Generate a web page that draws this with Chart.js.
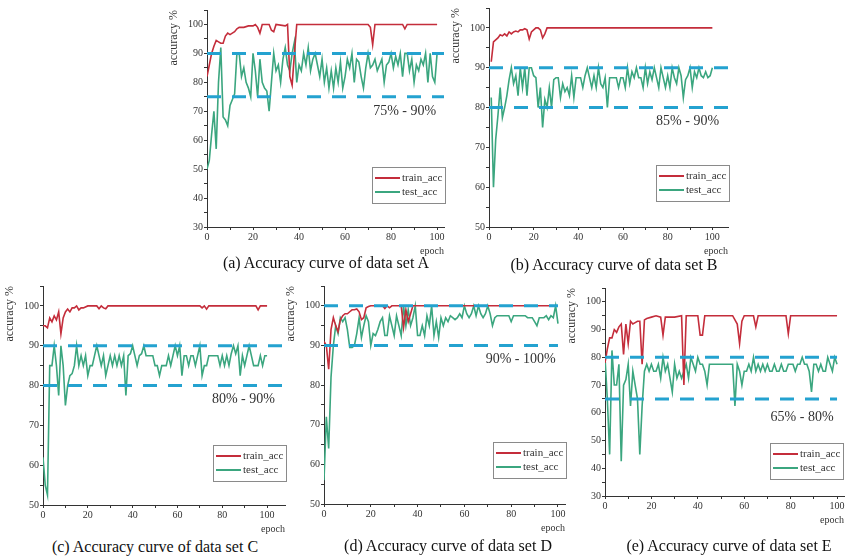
<!DOCTYPE html>
<html>
<head>
<meta charset="utf-8">
<script src="https://cdn.jsdelivr.net/npm/chart.js@4/dist/chart.umd.min.js"></script>
<style>
  body { margin: 0; width: 848px; height: 560px; background: #fff; position: relative; overflow: hidden; font-family: "Liberation Serif", serif; }
  canvas { position: absolute; }
  .cap { position: absolute; font-size: 16px; color: #111; white-space: nowrap; transform: translateX(-50%); line-height: 18px; }
</style>
</head>
<body>
<canvas id="chartA"></canvas>
<canvas id="chartB"></canvas>
<canvas id="chartC"></canvas>
<canvas id="chartD"></canvas>
<canvas id="chartE"></canvas>
<div class="cap" style="left:326px;top:254px">(a) Accuracy curve of data set A</div>
<div class="cap" style="left:614px;top:256px">(b) Accuracy curve of data set B</div>
<div class="cap" style="left:155px;top:538px">(c) Accuracy curve of data set C</div>
<div class="cap" style="left:448px;top:537px">(d) Accuracy curve of data set D</div>
<div class="cap" style="left:729px;top:537px">(e) Accuracy curve of data set E</div>
<script>
// ---- data ----
// test_acc: one value per epoch, starting at testStart
const testStartA = 0;
const testA = [50, 53, 62, 70, 57, 80, 92, 68, 67, 65,
  72, 74, 76, 90, 90, 82, 85, 80, 78, 75,
  90, 84, 75, 88, 80, 78, 77, 70, 80, 90,
  84, 86, 80, 88, 92, 86, 84, 90, 94, 80,
  86, 84, 90, 86, 92, 84, 88, 90, 86, 82,
  88, 80, 85, 78, 84, 78, 85, 80, 87, 78,
  82, 88, 85, 90, 80, 88, 87, 82, 78, 85,
  90, 85, 86, 88, 84, 86, 88, 80, 86, 87,
  90, 85, 89, 86, 90, 82, 90, 90, 84, 88,
  80, 86, 84, 88, 86, 90, 80, 90, 82, 80, 90];
const trainEpA = [0, 1, 2, 3, 4, 5, 6, 7, 8, 9, 10, 11, 12, 13, 14, 16, 18, 20, 21, 22, 23, 24, 27, 28, 29, 30, 34, 35, 36, 37, 38, 39, 70, 71, 72, 73, 85, 86, 87, 100];
const trainA = [82, 86, 90, 92.5, 94.5, 94, 93.5, 93.5, 96, 97, 96.5, 97, 97.5, 98.5, 99, 99, 99.5, 99.5, 100, 99, 97, 100, 100, 98, 97.5, 100, 99.5, 100, 82, 79, 90, 100, 100, 99, 93, 100, 100, 98.5, 100, 100];

const testStartB = 1;
const testB = [82.5, 60, 72, 78, 85, 77.5, 80, 83, 87, 90,
  86, 88, 83, 90, 85, 90, 83, 90, 90, 88,
  87.5, 80, 85, 75, 82, 80, 85, 80, 87, 87.5,
  87.5, 82.5, 86, 84, 85, 83, 88, 82.5, 87.5, 87.5,
  87.5, 85, 88, 90, 87.5, 85, 88, 85, 90, 86,
  85, 87.5, 80, 87.5, 87.5, 87.5, 87.5, 85, 87.5, 87.5,
  85, 90, 86, 89, 87.5, 90, 87.5, 87.5, 85, 90,
  86, 89, 87, 90, 87.5, 85, 90, 87.5, 85, 88,
  85, 90, 87.5, 86, 90, 88, 82.5, 87, 88, 90,
  85, 89, 87.5, 90, 88, 87.5, 89, 87.5, 88, 90];
const trainEpB = [1, 2, 3, 4, 5, 6, 7, 8, 9, 10, 11, 12, 13, 14, 15, 16, 17, 18, 19, 20, 21, 22, 23, 24, 25, 26, 100];
const trainB = [91.5, 96.5, 97, 97.5, 98.3, 98, 98.5, 98, 99, 98.5, 99, 99.2, 99, 99.5, 99.5, 99.8, 99.5, 97.2, 99, 99.5, 100, 100, 99.5, 97.5, 98.5, 100, 100];

const testStartC = 0;
const testC = [62, 55, 52.5, 85, 85, 90, 85, 77.5, 90, 85,
  75, 80, 82.5, 83, 85, 90, 85, 87.5, 85, 87.5,
  82.5, 85, 85, 87.5, 90, 87.5, 85, 87.5, 82.5, 85,
  87.5, 85, 87.5, 85, 87.5, 85, 87.5, 77.5, 87.5, 88,
  90, 87.5, 85, 87.5, 88, 90, 87.5, 87.5, 87.5, 87.5,
  85, 85, 82.5, 85, 85, 85, 87.5, 85, 87.5, 90,
  87.5, 90, 82.5, 87.5, 87.5, 85, 87.5, 87.5, 85, 87.5,
  90, 82.5, 85, 85, 87.5, 87.5, 87.5, 87.5, 87.5, 85,
  87.5, 85, 87.5, 85, 88, 90, 88, 90, 82.5, 87.5,
  85, 87.5, 90, 87.5, 85, 85, 85, 87.5, 85, 87.5, 87.5];
const trainEpC = [0, 1, 2, 3, 4, 5, 6, 7, 8, 9, 10, 11, 12, 13, 14, 15, 16, 17, 18, 20, 24, 25, 26, 27, 28, 29, 70, 71, 72, 73, 74, 95, 96, 97, 100];
const trainC = [95, 95, 94.5, 97, 96, 97.5, 96.5, 98.5, 93, 97, 98.5, 99.2, 98.5, 99.5, 99.5, 100, 99, 99.5, 99.5, 100, 100, 99.3, 100, 99.5, 99.3, 100, 100, 99.5, 100, 99.2, 100, 100, 99, 100, 100];

const testStartD = 0;
const testD = [56, 72, 64, 82, 90, 95, 93, 97, 96, 97,
  94, 89.5, 89.5, 90, 93, 97, 92, 95, 97.5, 96,
  90, 93, 92.5, 94, 96, 97, 92.5, 92.5, 97.5, 95,
  92.5, 97.5, 95, 92.5, 100, 95, 99, 95, 97, 100,
  92.5, 92.5, 95, 92.5, 97.5, 95, 100, 92.5, 96, 92,
  97, 95, 97, 96, 97.5, 97, 96.5, 97, 98, 97,
  100, 98, 97, 98, 100, 97.5, 100, 98, 97, 98,
  100, 98, 95, 97, 97.5, 97.5, 97.5, 97.5, 97.5, 97.5,
  96, 97.5, 97.5, 97.5, 97.5, 97.5, 97.5, 97, 97, 97,
  96, 95, 97, 97, 97, 97.5, 96.5, 97.5, 97, 100, 95.5];
const trainEpD = [0, 1, 2, 3, 4, 5, 6, 7, 8, 9, 10, 11, 12, 13, 14, 15, 16, 17, 18, 19, 20, 25, 26, 27, 28, 29, 33, 34, 35, 36, 37, 38, 100];
const trainD = [91, 90, 84, 94, 97, 95, 93.5, 96.5, 97.5, 98, 98, 98.5, 99, 99, 99.2, 98.5, 96.5, 97, 99.5, 99.8, 100, 100, 99.3, 100, 99.5, 100, 100, 94.5, 99, 96, 98, 100, 100];

const testStartE = 0;
const testE = [80, 65, 45, 82.5, 70, 70, 77.5, 42.5, 70, 72,
  77.5, 62.5, 75, 70, 65, 45, 62.5, 75, 77.5, 75,
  77.5, 75, 75, 77.5, 72.5, 80, 75, 77.5, 72.5, 67.5,
  77.5, 72.5, 75, 72.5, 75, 77.5, 72.5, 80, 77.5, 75,
  80, 77.5, 77.5, 75, 70, 77.5, 77.5, 77.5, 77.5, 77.5,
  77.5, 77.5, 77.5, 77.5, 77.5, 77.5, 62.5, 77.5, 75, 70,
  75, 75, 77.5, 75, 80, 75, 77.5, 75, 77.5, 75,
  77.5, 75, 75, 77.5, 75, 75, 77.5, 75, 75, 77.5,
  77.5, 77.5, 75, 77.5, 77.5, 80, 77.5, 77.5, 75, 67.5,
  77.5, 77.5, 75, 77.5, 75, 75, 80, 77.5, 75, 80, 77.5];
const trainEpE = [0, 1, 2, 3, 4, 5, 6, 7, 8, 9, 10, 11, 12, 13, 14, 15, 16, 17, 18, 20, 22, 24, 25, 26, 30, 33, 34, 35, 40, 41, 42, 43, 55, 57, 58, 59, 60, 64, 65, 66, 78, 79, 80, 100];
const trainE = [78, 83, 87, 87, 90, 89, 91, 92, 81, 92, 85, 93, 92, 92.5, 93, 93, 77.5, 93.5, 94, 94.5, 95, 94.5, 88, 94.5, 94.5, 95, 70, 95, 95, 88, 88, 95, 95, 92, 85, 93, 95, 95, 91, 95, 95, 88.5, 95, 95];

// dashed band limits and their labels
const bandA = [75, 90], bandB = [80, 90], bandC = [80, 90], bandD = [90, 100], bandE = [65, 80];
const labelA = "75% - 90%", labelB = "85% - 90%", labelC = "80% - 90%", labelD = "90% - 100%", labelE = "65% - 80%";

// axis tick values
const epochTicks = [0, 10, 20, 30, 40, 50, 60, 70, 80, 90, 100];

const RED = "#c42d3b";
const GREEN = "#3ba67f";
const BLUE = "#24a2d0";
const INK = "#333";
const SERIF = '"Liberation Serif", "Times New Roman", serif';

// draws the range label and the boxed legend
const panelDeco = {
  id: "panelDeco",
  afterDatasetsDraw(chart, args, opts) {
    const ctx = chart.ctx;
    const xs = chart.scales.x, ys = chart.scales.y;
    ctx.save();
    ctx.font = "14px " + SERIF;
    ctx.fillStyle = INK;
    ctx.textAlign = "right";
    ctx.textBaseline = "middle";
    ctx.fillText(opts.label, xs.getPixelForValue(opts.labelAt[0]), ys.getPixelForValue(opts.labelAt[1]));

    const lx = opts.legendAt[0] - opts.origin[0];
    const ly = opts.legendAt[1] - opts.origin[1];
    ctx.fillStyle = "#fff";
    ctx.fillRect(lx, ly, 73, 36);
    ctx.strokeStyle = "#8a8a8a";
    ctx.lineWidth = 1;
    ctx.strokeRect(lx + 0.5, ly + 0.5, 73, 36);
    const rows = [["train_acc", RED], ["test_acc", GREEN]];
    rows.forEach((r, i) => {
      const yy = ly + 11 + i * 14;
      ctx.strokeStyle = r[1];
      ctx.lineWidth = 2;
      ctx.beginPath();
      ctx.moveTo(lx + 3, yy);
      ctx.lineTo(lx + 28, yy);
      ctx.stroke();
      ctx.fillStyle = INK;
      ctx.font = "11px " + SERIF;
      ctx.textAlign = "left";
      ctx.fillText(r[0], lx + 30, yy);
    });
    ctx.restore();
  }
};

function pts(xs, ys) {
  return ys.map((v, i) => ({ x: xs[i], y: v }));
}
function perEpoch(start, ys) {
  return ys.map((v, i) => ({ x: start + i, y: v }));
}

function panel(id, area, yMin, xMax, dashEnd, band, trainEp, train, testStart, test, label, labelAt, legendAt) {
  const padL = 40, padT = 4, padR = 8, padB = 30;
  const cv = document.getElementById(id);
  const w = area[2] - area[0] + padL + padR;
  const h = area[3] - area[1] + padT + padB;
  const left = area[0] - padL, top = area[1] - padT;
  cv.width = w; cv.height = h;
  cv.style.left = left + "px"; cv.style.top = top + "px";
  cv.style.width = w + "px"; cv.style.height = h + "px";

  const dash = (v) => ({
    data: [{ x: 0, y: v }, { x: dashEnd, y: v }],
    borderColor: BLUE, borderWidth: 3, borderDash: [14, 11], pointRadius: 0
  });

  const yTicks = [];
  for (let v = yMin; v <= 105; v += 5) yTicks.push(v);

  new Chart(cv, {
    type: "line",
    data: {
      datasets: [
        dash(band[0]),
        dash(band[1]),
        { data: pts(trainEp, train), borderColor: RED, borderWidth: 1.6, pointRadius: 0, tension: 0 },
        { data: perEpoch(testStart, test), borderColor: GREEN, borderWidth: 1.6, pointRadius: 0, tension: 0 }
      ]
    },
    options: {
      responsive: false,
      animation: false,
      events: [],
      layout: { padding: { top: padT, right: padR, left: 0, bottom: 0 } },
      plugins: {
        legend: { display: false },
        tooltip: { enabled: false },
        panelDeco: { label: label, labelAt: labelAt, legendAt: legendAt, origin: [left, top] }
      },
      scales: {
        x: {
          type: "linear", min: 0, max: xMax,
          afterBuildTicks: (s) => { s.ticks = epochTicks.map(v => ({ value: v })); },
          afterFit: (s) => { s.height = padB; },
          ticks: {
            padding: 1, color: INK, autoSkip: false, maxRotation: 0,
            font: { family: SERIF, size: 10 },
            callback: (v) => (v % 20 === 0 ? v : "")
          },
          grid: { drawOnChartArea: false, tickLength: 3, color: INK },
          border: { color: INK, width: 1 },
          title: { display: true, text: "epoch", align: "end", color: INK, padding: { top: -2, bottom: 0 }, font: { family: SERIF, size: 10 } }
        },
        y: {
          min: yMin, max: 105,
          afterBuildTicks: (s) => { s.ticks = yTicks.map(v => ({ value: v })); },
          afterFit: (s) => { s.width = padL; },
          ticks: {
            padding: 1, color: INK, autoSkip: false,
            font: { family: SERIF, size: 10 },
            callback: (v) => (v % 10 === 0 && v <= 100 ? v : "")
          },
          grid: { drawOnChartArea: false, tickLength: 3, color: INK },
          border: { color: INK, width: 1 },
          title: { display: true, text: "accuracy %", align: "end", color: INK, padding: 0, font: { family: SERIF, size: 12 } }
        }
      }
    },
    plugins: [panelDeco]
  });
}

panel("chartA", [207, 7, 444, 227], 30, 103, 103, bandA, trainEpA, trainA, testStartA, testA, labelA, [99.6, 70], [372, 167]);
panel("chartB", [489, 5, 728, 227], 50, 107, 107, bandB, trainEpB, trainB, testStartB, testB, labelB, [103, 76.5], [656, 165]);
panel("chartC", [43, 283, 285, 505], 50, 108, 108, bandC, trainEpC, trainC, testStartC, testC, labelC, [103.5, 76.5], [213, 445]);
panel("chartD", [324, 283, 565, 504], 50, 103, 100, bandD, trainEpD, trainD, testStartD, testD, labelD, [99, 86.6], [493, 442]);
panel("chartE", [605, 285, 844, 496], 30, 103, 100, bandE, trainEpE, trainE, testStartE, testE, labelE, [98.5, 58.4], [770, 443]);
</script>
</body>
</html>
